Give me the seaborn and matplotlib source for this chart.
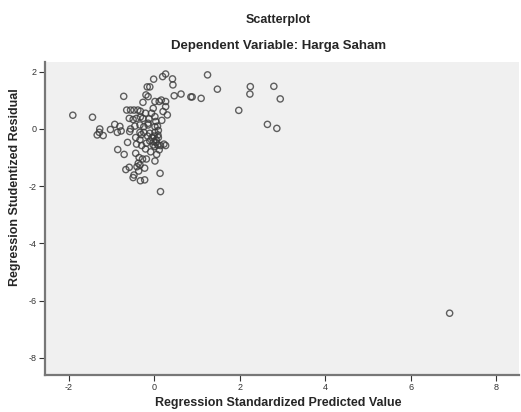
import numpy as np
import pandas as pd
import seaborn as sns
import matplotlib.pyplot as plt

# Werte
pred = [-1.90, -1.44, -1.27, -1.28, -1.33, -1.19, -1.02, -0.92, -0.80, -0.86, -0.77, -0.71,
        -0.85, -0.70, -0.62, -0.66, -0.58, -0.49, -0.47, -0.32, -0.22, 0.14, 0.15, -0.57,
        -0.64, -0.55, -0.47, -0.38, -0.32, -0.58, -0.49, -0.41, -0.32, -0.26, -0.33, -0.24,
        -0.14, 0.02, -0.33,
        -0.43, -0.33, -0.41, -0.29, -0.18, -0.10, -0.01, 0.05, 0.09, 0.02, -0.10, -0.24,
        -0.02, 0.02, 0.09, 0.15, 0.23, 0.27, 0.12, 0.06, 0.02,
        -0.43, -0.35, -0.27, -0.18, -0.37, -0.40, -0.33, -0.22, -0.36,
        -0.19, -0.14, -0.26, -0.16, -0.10, -0.01, 0.20, 0.27, 0.43, 0.44, 0.47, 0.63,
        0.86, 0.89, 1.10, 1.25, 1.48, 1.98, 2.25, 2.24, 2.80, 2.95, 2.65, 2.87,
        0.02, 0.12, 0.17, 0.27, 0.27, 0.31, 0.21, -0.02, -0.06, 0.02, 0.04, -0.14,
        -0.05, 0.00, 0.05, -0.15, 0.10, -0.20, -0.08, -0.30, -0.45, -0.12, 0.08, -0.55,
        -0.20, 0.18, 0.10,
        6.91]
resid = [0.48, 0.41, 0.00, -0.12, -0.21, -0.23, -0.02, 0.16, 0.09, -0.12, -0.07, 1.14,
         -0.72, -0.89, -0.47, -1.42, -1.34, -1.70, -1.61, -1.81, -1.78, -1.55, -2.19, -0.09,
         0.66, 0.66, 0.66, 0.66, 0.62, 0.37, 0.33, 0.37, 0.42, 0.37, 0.14, 0.08,
         0.14, 0.08, -0.12,
         -0.30, -0.38, -0.53, -0.58, -0.50, -0.42, -0.44, -0.38, -0.21, -0.12, -0.15, -0.12,
         -0.56, -0.62, -0.56, -0.58, -0.53, -0.58, -0.73, -0.89, -1.12,
         -0.85, -1.00, -1.05, -1.05, -1.20, -1.32, -1.26, -1.37, -1.47,
         1.19, 1.13, 0.93, 1.47, 1.47, 1.74, 1.83, 1.92, 1.75, 1.54, 1.16, 1.22,
         1.12, 1.12, 1.07, 1.89, 1.39, 0.65, 1.48, 1.22, 1.49, 1.05, 0.16, 0.02,
         0.96, 0.96, 1.01, 0.96, 0.78, 0.49, 0.61, 0.72, 0.55, 0.43, 0.26, 0.20,
         -0.30, -0.25, -0.48, -0.25, -0.30, -0.70, -0.80, -0.20, 0.10, 0.35, 0.10, 0.00,
         0.55, 0.30, -0.05,
         -6.44]

df = pd.DataFrame({'pred': pred, 'resid': resid})

sns.set_style('ticks')
plt.rcParams['font.family'] = ['Liberation Sans', 'DejaVu Sans']
plt.rcParams['axes.unicode_minus'] = False

fig = plt.figure(figsize=(5.21, 4.12), dpi=100)
ax = fig.add_axes([0.0864, 0.0898, 0.9096, 0.7597])
ax.set_facecolor('#f0f0f0')

sns.scatterplot(x='pred', y='resid', data=df, ax=ax, s=20, facecolor='none',
                edgecolor='#3a3a3a', linewidth=1.0, alpha=0.8)

ax.set_xlim(-2.55, 8.53)
ax.set_ylim(-8.6, 2.34)
ax.set_xticks([-2, 0, 2, 4, 6, 8])
ax.set_yticks([2, 0, -2, -4, -6, -8])
ax.tick_params(labelsize=6.5, colors='#333333', length=4, width=0.8, direction='out', pad=2)

for s in ['top', 'right']:
    ax.spines[s].set_visible(False)
for s in ['left', 'bottom']:
    ax.spines[s].set_color('#777777')
    ax.spines[s].set_linewidth(1.6)

ax.set_xlabel('')
ax.set_ylabel('')

# Achsenbeschriftungen und Titel
fig.text(0.535, 1 - 403 / 412, 'Regression Standardized Predicted Value',
         ha='center', va='center', fontsize=9, fontweight='bold')
fig.text(15 / 521, 0.545, 'Regression Studentized Residual', rotation=90,
         ha='center', va='center', fontsize=9, fontweight='bold')
fig.text(0.535, 1 - 20 / 412, 'Scatterplot', ha='center', va='center', fontsize=9, fontweight='bold')
fig.text(0.535, 1 - 46 / 412, 'Dependent Variable: Harga Saham', ha='center', va='center',
         fontsize=9.5, fontweight='bold')

plt.savefig('out.png', dpi=100)
